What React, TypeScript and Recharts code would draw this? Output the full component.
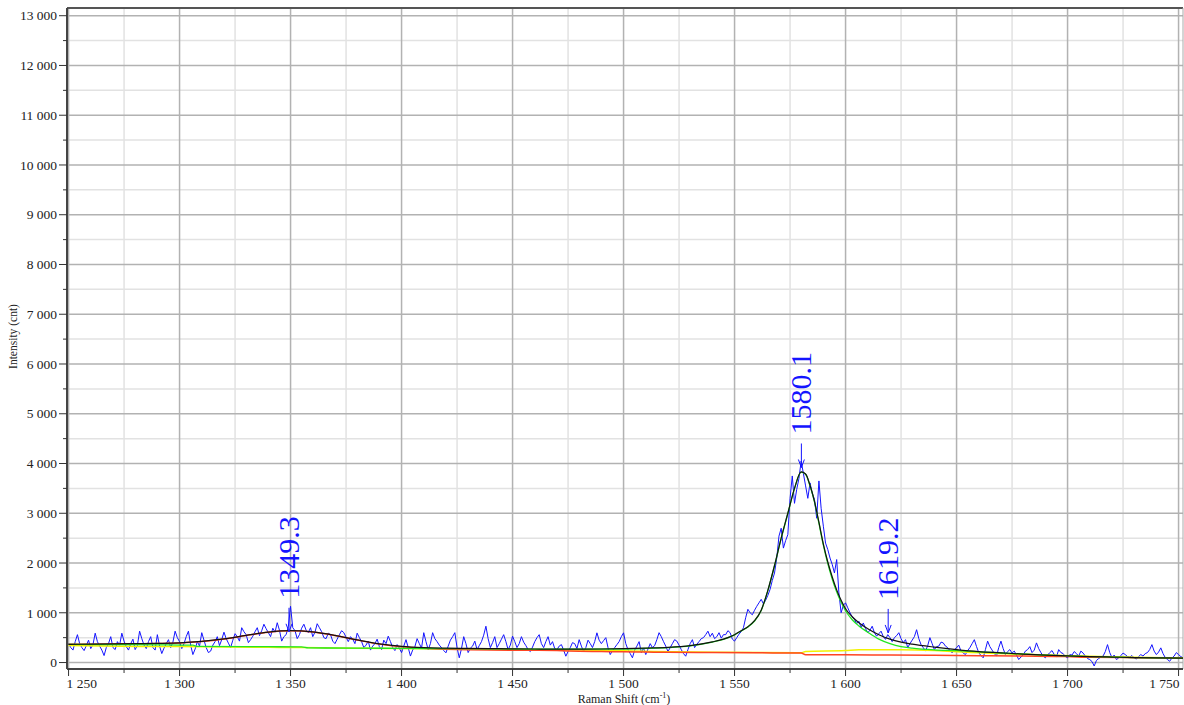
import React from 'react';
import { LineChart, Line, XAxis, YAxis, CartesianGrid, ReferenceDot, Label } from 'recharts';

// raw spectrum, one reading every 1 cm-1 starting at 1250
const SHIFT_START = 1250;
const SHIFT_STEP = 1;
const intensity = [
  380, 300, 250, 420, 560, 380, 300, 240, 340, 450,
  280, 360, 590, 420, 330, 250, 140, 300, 380, 520,
  300, 260, 420, 350, 590, 430, 320, 250, 380, 470,
  260, 340, 630, 480, 350, 280, 420, 520, 300, 250,
  560, 330, 180, 290, 380, 460, 300, 410, 630, 500,
  420, 280, 380, 520, 630, 350, 160, 270, 420, 330,
  600, 450, 300, 200, 230, 350, 420, 520, 340, 460,
  610, 480, 390, 300, 450, 580, 520, 430, 700, 620,
  560, 400, 460, 530, 620, 700, 540, 640, 770, 680,
  600, 520, 690, 610, 800, 650, 430, 520, 560, 720,
  1130, 700, 640, 480, 560, 690, 770, 650, 600, 700,
  520, 610, 780, 700, 620, 500, 480, 590, 560, 430,
  380, 470, 560, 640, 600, 510, 420, 520, 470, 380,
  590, 500, 420, 300, 350, 430, 250, 330, 380, 470,
  320, 260, 450, 380, 530, 420, 300, 240, 360, 290,
  200, 330, 460, 300, 130, 250, 320, 480, 380, 290,
  600, 420, 260, 380, 600, 480, 420, 350, 300, 240,
  195, 330, 450, 520, 600, 300, 95, 280, 520, 380,
  200, 290, 330, 430, 260, 340, 420, 550, 730, 480,
  300, 400, 520, 300, 380, 470, 560, 420, 260, 350,
  530, 420, 300, 380, 520, 410, 340, 260, 220, 310,
  420, 500, 560, 380, 300, 420, 520, 350, 420, 280,
  260, 330, 360, 250, 127, 220, 300, 400, 380, 280,
  460, 330, 220, 300, 450, 380, 300, 420, 597, 450,
  380, 440, 500, 300, 160, 240, 300, 360, 420, 520,
  597, 380, 260, 180, 95, 250, 330, 420, 200, 290,
  160, 270, 380, 300, 340, 460, 600, 520, 420, 330,
  220, 300, 380, 460, 430, 350, 260, 180, 127, 260,
  380, 460, 300, 370, 420, 480, 500, 560, 630, 520,
  590, 480, 520, 600, 490, 560, 560, 640, 600, 470,
  430, 500, 570, 620, 700, 900, 1070, 1000, 960, 1050,
  1130, 1200, 1270, 1180, 1250, 1350, 1470, 1650, 1800, 2100,
  2540, 2700, 2300, 2450, 2570, 3300, 3750, 3200, 3480, 3700,
  4050, 3800, 3550, 3300, 3610, 3400, 3280, 2900, 3650, 3100,
  2740, 2400, 2270, 2100, 1970, 1800, 2070, 1400, 1000, 1150,
  1200, 1100, 1000, 920, 865, 780, 830, 700, 795, 680,
  600, 650, 730, 600, 530, 580, 630, 520, 465, 560,
  500, 420, 500, 540, 600, 480, 400, 460, 300, 380,
  450, 520, 660, 480, 360, 300, 230, 340, 500, 380,
  260, 320, 330, 410, 395, 330, 300, 240, 195, 260,
  295, 350, 230, 190, 160, 240, 300, 380, 460, 320,
  200, 140, 95, 260, 430, 320, 250, 180, 130, 300,
  430, 280, 160, 220, 260, 190, 230, 150, 60, 110,
  150, 230, 260, 320, 200, 250, 395, 280, 200, 130,
  95, 150, 200, 240, 160, 110, 260, 200, 180, 120,
  95, 160, 150, 220, 180, 130, 230, 190, 130, 80,
  60, 20, -70, 40, 80, 110, 130, 220, 360, 200,
  100, 150, 60, 90, 140, 190, 160, 120, 110, 140,
  95, 70, 120, 160, 130, 180, 200, 260, 360, 230,
  160, 210, 295, 180, 100, 60, 25, 90, 130, 200,
  160, 120, 95,
];

// fitted curves [shift, intensity]
const totalFit: [number, number][] = [
  [1250, 365], [1260, 370], [1270, 375], [1280, 380], [1290, 385], [1300, 395],
  [1310, 425], [1320, 475], [1330, 545], [1340, 610], [1350, 640], [1360, 615],
  [1370, 545], [1380, 455], [1390, 375], [1400, 325], [1410, 300], [1420, 290],
  [1430, 285], [1440, 280], [1450, 275], [1460, 272], [1470, 270], [1480, 270],
  [1490, 272], [1500, 278], [1510, 290], [1520, 305], [1530, 340], [1540, 415],
  [1545, 470], [1550, 560], [1553, 640], [1556, 720], [1559, 840], [1562, 1050],
  [1565, 1450], [1568, 1950], [1571, 2500], [1574, 3000], [1577, 3500], [1580, 3830],
  [1582, 3790], [1584, 3560], [1586, 3240], [1588, 2820], [1590, 2380], [1592, 2020],
  [1594, 1720], [1596, 1460], [1598, 1250], [1600, 1080], [1603, 920], [1606, 800],
  [1610, 680], [1615, 560], [1620, 470], [1625, 410], [1630, 370], [1640, 310],
  [1650, 260], [1660, 220], [1670, 195], [1680, 170], [1690, 150], [1700, 135],
  [1710, 120], [1720, 110], [1730, 100], [1740, 93], [1752, 88],
];

const gBand: [number, number][] = [
  [1250, 365], [1270, 360], [1290, 355], [1306, 348], [1308, 325], [1340, 318],
  [1355, 315], [1358, 295], [1380, 290], [1400, 285], [1420, 280], [1440, 275],
  [1460, 270], [1480, 268], [1500, 272], [1510, 283], [1520, 300], [1530, 335],
  [1540, 410], [1545, 465], [1550, 555], [1553, 635], [1556, 715], [1559, 835],
  [1562, 1045], [1565, 1445], [1568, 1945], [1571, 2495], [1574, 2995], [1577, 3495],
  [1580, 3825], [1582, 3785], [1584, 3550], [1586, 3230], [1588, 2800], [1590, 2360],
  [1592, 1990], [1594, 1680], [1596, 1420], [1598, 1210], [1600, 1040], [1603, 860],
  [1606, 735], [1610, 610], [1615, 470], [1620, 380], [1625, 320], [1630, 290],
  [1640, 255], [1650, 238], [1660, 215], [1670, 192], [1680, 170], [1690, 150],
  [1700, 135], [1710, 120], [1720, 110], [1730, 100], [1740, 93], [1752, 88],
];

const dBand: [number, number][] = [
  [1250, 365], [1260, 368], [1270, 372], [1280, 378], [1290, 383], [1300, 393],
  [1310, 422], [1320, 472], [1330, 542], [1340, 607], [1350, 637], [1360, 612],
  [1370, 542], [1380, 452], [1390, 370], [1400, 315], [1410, 285], [1420, 268],
  [1430, 258], [1440, 252], [1450, 248], [1460, 245], [1470, 240], [1480, 228],
  [1490, 222], [1500, 215], [1510, 210], [1520, 205], [1540, 200], [1560, 195],
  [1580, 192], [1582, 158], [1600, 155], [1620, 150], [1640, 145], [1660, 138],
  [1680, 130], [1700, 120], [1710, 105], [1730, 98], [1752, 90],
];

const dPrimeBand: [number, number][] = [
  [1250, 340], [1266, 330], [1300, 320], [1340, 305], [1355, 300], [1400, 280],
  [1450, 262], [1480, 250], [1500, 235], [1540, 205], [1580, 198], [1582, 222],
  [1600, 240], [1606, 255], [1625, 258], [1640, 240], [1650, 215], [1670, 180],
  [1690, 150], [1710, 125], [1730, 105], [1752, 92],
];

const peakLabels = ['1349.3', '1580.1', '1619.2'];
const peakShift = [1349.3, 1580.1, 1619.2];
const peakTip = [618, 3920, 595];

const X_TICKS = [1250, 1275, 1300, 1325, 1350, 1375, 1400, 1425, 1450, 1475, 1500,
  1525, 1550, 1575, 1600, 1625, 1650, 1675, 1700, 1725, 1750];
const Y_TICKS = [0, 500, 1000, 1500, 2000, 2500, 3000, 3500, 4000, 4500, 5000, 5500,
  6000, 6500, 7000, 7500, 8000, 8500, 9000, 9500, 10000, 10500, 11000, 11500, 12000,
  12500, 13000];

const X_DOMAIN: [number, number] = [1249.3, 1752];
const Y_DOMAIN: [number, number] = [-130, 13155];

const spectrum = intensity.map((v, i) => ({ x: SHIFT_START + i * SHIFT_STEP, y: v }));
const toRows = (pts: [number, number][]) => pts.map(([x, y]) => ({ x, y }));

const SERIF = "'Liberation Serif', 'Times New Roman', 'DejaVu Serif', serif";
const BLUE = '#1414ff';

const fmt = (v: number) => {
  if (v < 1000) return String(v);
  return `${Math.floor(v / 1000)} ${String(v % 1000).padStart(3, '0')}`;
};

const XTick = (props: any) => {
  const { x, y, payload } = props;
  const v = payload.value;
  const major = v % 50 === 0;
  let anchor = 'middle';
  let dx = 0;
  if (v === X_TICKS[0]) { anchor = 'start'; dx = -2; }
  if (v === X_TICKS[X_TICKS.length - 1]) { anchor = 'end'; dx = 1; }
  return (
    <g>
      <line x1={x} x2={x} y1={y} y2={y + (major ? 7 : 4)} stroke="#333" />
      {major && (
        <text x={x + dx} y={y + 19} textAnchor={anchor} style={{ fontFamily: SERIF, fontSize: 13.5 }} fill="#222">
          {fmt(v)}
        </text>
      )}
    </g>
  );
};

const YTick = (props: any) => {
  const { x, y, payload } = props;
  const v = payload.value;
  const major = v % 1000 === 0;
  return (
    <g>
      <line x1={x - (major ? 8 : 4)} x2={x} y1={y} y2={y} stroke="#333" />
      {major && (
        <text x={x - 10} y={y} dy="0.35em" textAnchor="end" style={{ fontFamily: SERIF, fontSize: 13.5 }} fill="#222">
          {fmt(v)}
        </text>
      )}
    </g>
  );
};

const PeakMarker = (props: any) => {
  const { cx, cy, label } = props;
  if (cx == null || cy == null) return null;
  return (
    <g>
      <line x1={cx} x2={cx} y1={cy - 24} y2={cy} stroke={BLUE} strokeWidth={1} />
      <path d={`M${cx - 3},${cy - 8} L${cx},${cy} L${cx + 3},${cy - 8}`} fill="none" stroke={BLUE} strokeWidth={1} />
      <text
        transform={`translate(${cx + 10},${cy - 33}) rotate(-90)`}
        style={{ fontFamily: SERIF, fontSize: 30 }}
        fill={BLUE}
      >
        {label}
      </text>
    </g>
  );
};

export default function App() {
  const minorX = X_TICKS.filter((v) => v % 50 !== 0);
  const majorX = X_TICKS.filter((v) => v % 50 === 0);
  const minorY = Y_TICKS.filter((v) => v % 1000 !== 0);
  const majorY = Y_TICKS.filter((v) => v % 1000 === 0);

  return (
    <div style={{ position: 'absolute', left: 0, top: 0, background: '#fff' }}>
      <LineChart width={1184} height={705} margin={{ top: 8, right: 1, bottom: 0, left: 0 }}>
        <CartesianGrid horizontalValues={minorY} verticalValues={minorX} stroke="#e2e2e2" strokeWidth={1.5} />
        <CartesianGrid horizontalValues={majorY} verticalValues={majorX} stroke="#b2b2b2" strokeWidth={1.5} />
        <CartesianGrid horizontalValues={[Y_DOMAIN[1]]} vertical={false} stroke="#555" strokeWidth={2} />
        <CartesianGrid verticalValues={[X_DOMAIN[1]]} horizontal={false} stroke="#aaa" strokeWidth={1} />
        <XAxis
          dataKey="x"
          type="number"
          domain={X_DOMAIN}
          allowDataOverflow
          ticks={X_TICKS}
          interval={0}
          tick={<XTick />}
          tickLine={false}
          tickSize={0}
          tickMargin={0}
          height={36}
          axisLine={{ stroke: '#444', strokeWidth: 2 }}
        >
          <Label
            content={(p: any) => {
              const vb = p.viewBox;
              return (
                <text x={vb.x + vb.width / 2 - 1} y={vb.y + 34} textAnchor="middle" style={{ fontFamily: SERIF, fontSize: 12 }} fill="#222">
                  <tspan>Raman Shift (cm</tspan>
                  <tspan dy={-5} style={{ fontSize: 8 }}>-1</tspan>
                  <tspan dy={5}>)</tspan>
                </text>
              );
            }}
          />
        </XAxis>
        <YAxis
          dataKey="y"
          type="number"
          domain={Y_DOMAIN}
          allowDataOverflow
          ticks={Y_TICKS}
          interval={0}
          tick={<YTick />}
          tickLine={false}
          tickSize={0}
          tickMargin={0}
          width={67}
          axisLine={{ stroke: '#444', strokeWidth: 2 }}
        >
          <Label
            content={(p: any) => {
              const vb = p.viewBox;
              const cy = vb.y + vb.height / 2 - 2;
              return (
                <text
                  transform={`translate(12.5,${cy}) rotate(-90)`}
                  textAnchor="middle"
                  dominantBaseline="central"
                  style={{ fontFamily: SERIF, fontSize: 11.5 }}
                  fill="#222"
                >
                  Intensity (cnt)
                </text>
              );
            }}
          />
        </YAxis>
        <Line data={spectrum} dataKey="y" type="linear" stroke={BLUE} strokeWidth={1} dot={false} isAnimationActive={false} />
        <Line data={toRows(dPrimeBand)} dataKey="y" type="monotone" stroke="#f2f200" strokeWidth={1.5} dot={false} isAnimationActive={false} />
        <Line data={toRows(dBand)} dataKey="y" type="monotone" stroke="#ff4422" strokeWidth={1.5} dot={false} isAnimationActive={false} />
        <Line data={toRows(gBand)} dataKey="y" type="monotone" stroke="#22e622" strokeWidth={1.3} dot={false} isAnimationActive={false} />
        <Line data={toRows(totalFit)} dataKey="y" type="monotone" stroke="#111" strokeWidth={1.2} dot={false} isAnimationActive={false} />
        {peakLabels.map((lbl, i) => (
          <ReferenceDot
            key={lbl}
            x={peakShift[i]}
            y={peakTip[i]}
            r={0}
            shape={(p: any) => <PeakMarker {...p} label={lbl} />}
          />
        ))}
      </LineChart>
    </div>
  );
}
